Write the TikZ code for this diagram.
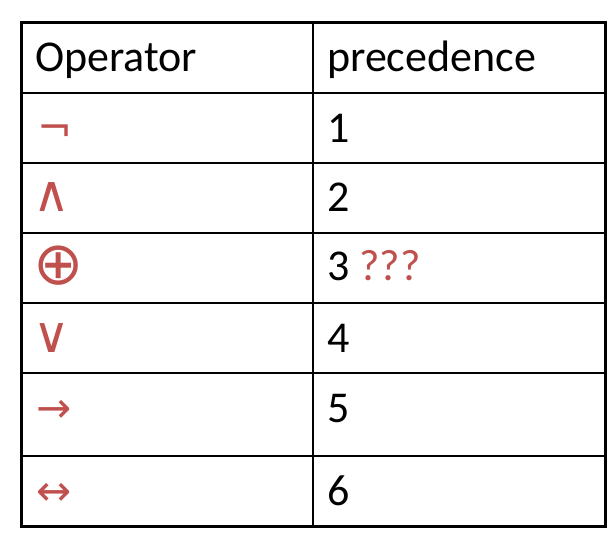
\documentclass[tikz,border=0pt]{standalone}
\usepackage{fontspec}
\setmainfont{Carlito}
\newfontfamily\symfont{DejaVu Sans}
\usetikzlibrary{positioning}
\definecolor{oprred}{RGB}{192, 80, 77}

\begin{document}
\begin{tikzpicture}[
    x=1pt, y=-1pt,
    celltext/.style={anchor=base west, inner sep=0pt, font=\fontsize{44}{50}\selectfont},
    optext/.style={celltext, text=oprred, font=\fontsize{42}{50}\selectfont\symfont},
    bigop/.style={optext, font=\fontsize{50}{56}\selectfont\symfont},
    outerline/.style={draw=black, line width=3pt},
    innerline/.style={draw=black, line width=1.5pt}
]

    \useasboundingbox (0,0) rectangle (616,551);

    % --- Grid ---

    % Row lines
    \draw[innerline] (21,93) -- (605,93);
    \draw[innerline] (21,163) -- (605,163);
    \draw[innerline] (21,233) -- (605,233);
    \draw[innerline] (21,303) -- (605,303);
    \draw[innerline] (21,373) -- (605,373);
    \draw[innerline] (21,456) -- (605,456);

    % Column line
    \draw[innerline] (313,23) -- (313,526);

    % Frame
    \draw[outerline] (21,23) rectangle (605,526);

    % --- Header ---
    \node[celltext] (hoper) at (35,72) {Operator};
    \node[celltext] (hprec) at (327,72) {precedence};

    % --- Rows ---
    \node[optext] (opnot) at (37,142) {¬};
    \node[celltext] (prnot) at (327,142) {1};

    \node[bigop] (opand) at (33,211) {∧};
    \node[celltext] (prand) at (327,211) {2};

    \node[optext, font=\fontsize{60}{66}\selectfont\symfont] (opxor) at (33,284) {⊕};
    \node[celltext] (prxor) at (327,280) {3 \textcolor{oprred}{???}};

    \node[bigop] (opor) at (33,352) {∨};
    \node[celltext] (pror) at (327,352) {4};

    \node[optext] (opimp) at (36,422) {→};
    \node[celltext] (primp) at (327,422) {5};

    \node[optext] (opiff) at (36,505) {↔};
    \node[celltext] (priff) at (327,505) {6};

\end{tikzpicture}
\end{document}
